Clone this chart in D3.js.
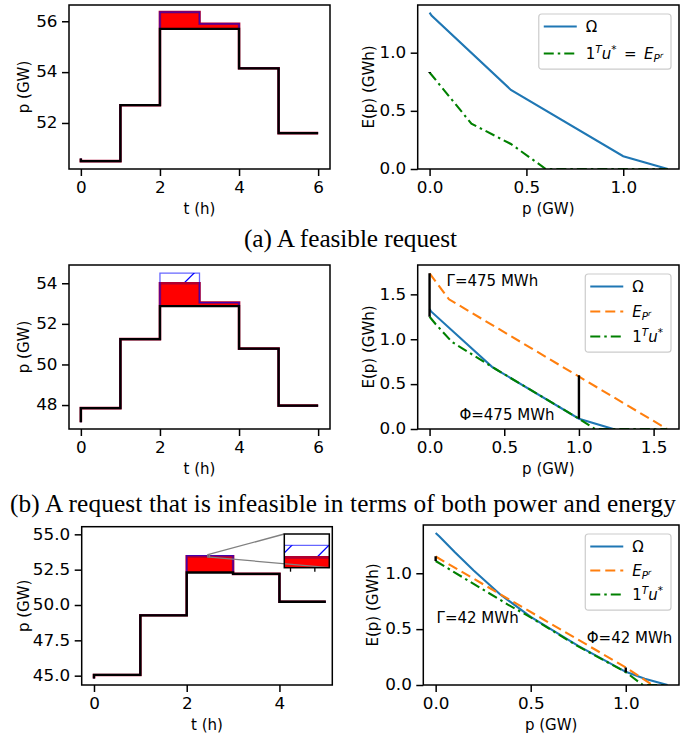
<!DOCTYPE html>
<html>
<head>
<meta charset="utf-8">
<script src="https://cdn.jsdelivr.net/npm/d3@7"></script>
<style>
body { margin: 0; background: #fff; }
svg text { font-family: "DejaVu Sans", sans-serif; font-size: 15px; fill: #000; }
svg text.cap { font-family: "Liberation Serif", serif; font-size: 25.3px; }
</style>
</head>
<body>
<svg id="chart" width="699" height="734"></svg>
<script>
// ---------- data ----------
// hours (step 'pre' : value i is the level on (t[i-1], t[i]])
const hoursAB = [0, 1, 2, 3, 4, 5, 6];
const hoursC = [0, 1, 2, 3, 4, 5];

// (a) feasible request
const baseA = [50.6, 50.5, 52.7, 55.7, 55.7, 54.15, 51.6];
const reqA  = [50.6, 50.5, 52.7, 56.36, 55.9, 54.15, 51.6];
const delA  = [50.6, 50.5, 52.7, 56.36, 55.9, 54.15, 51.6];
const omegaA = [[0, 1.345], [0.01, 1.32], [0.42, 0.68], [1.0, 0.11], [1.23, 0]];
const uA     = [[0, 0.83], [0.216, 0.39], [0.42, 0.215], [0.6, 0], [1.23, 0]];
const marksA = [[0, 0.825, 0.835]];

// (b) infeasible in power and energy
const baseB = [47.15, 47.85, 51.25, 52.87, 52.87, 50.78, 47.97];
const reqB  = [47.15, 47.85, 51.25, 54.5, 53.05, 50.78, 47.97];
const delB  = [47.15, 47.85, 51.25, 54.0, 53.05, 50.78, 47.97];
const omegaB = [[0, 1.335], [0.01, 1.31], [0.42, 0.69], [1.0, 0.115], [1.23, 0]];
const reqEB  = [[0, 1.735], [0.13, 1.445], [1.59, 0]];
const uB     = [[0, 1.25], [0.04, 1.17], [0.15, 0.97], [0.45, 0.66], [1.0, 0.115], [1.107, 0], [1.59, 0]];
const marksB = [[0, 1.25, 1.735], [1.0, 0.115, 0.6]];
const notesB = [['Γ=475 MWh', 0.114, 1.59], ['Φ=475 MWh', 0.2, 0.105]];

// (c)
const baseC = [44.8, 45.05, 49.27, 52.3, 52.2, 50.23];
const reqC  = [44.8, 45.05, 49.27, 53.5, 52.2, 50.23];
const delC  = [44.8, 45.05, 49.27, 53.44, 52.2, 50.23];
const omegaC = [[0, 1.36], [0.02, 1.33], [0.1, 1.19], [0.2, 1.025], [0.34, 0.81], [0.5, 0.61], [0.75, 0.35], [1.0, 0.118], [1.1, 0.055], [1.22, 0]];
const reqEC  = [[0, 1.15], [1.0, 0.157], [1.14, 0]];
const uC     = [[0, 1.11], [0.38, 0.72], [0.5, 0.605], [0.75, 0.345], [1.0, 0.115], [1.09, 0], [1.22, 0]];
const marksC = [[0, 1.11, 1.152], [1.0, 0.115, 0.157]];
const notesC = [['Γ=42 MWh', 0.005, 0.555], ['Φ=42 MWh', 0.795, 0.372]];

// ticks
const tickHoursAB = [0, 2, 4, 6], tickHoursABLbl = ['0', '2', '4', '6'];
const tickHoursC = [0, 2, 4], tickHoursCLbl = ['0', '2', '4'];
const tickPowA = [52, 54, 56], tickPowALbl = ['52', '54', '56'];
const tickPowB = [48, 50, 52, 54], tickPowBLbl = ['48', '50', '52', '54'];
const tickPowC = [45, 47.5, 50, 52.5, 55], tickPowCLbl = ['45.0', '47.5', '50.0', '52.5', '55.0'];
const tickGw = [0, 0.5, 1.0], tickGwLbl = ['0.0', '0.5', '1.0'];
const tickGwB = [0, 0.5, 1.0, 1.5], tickGwBLbl = ['0.0', '0.5', '1.0', '1.5'];
const tickInset = [2.46, 2.48];

// legend labels (mathtext pieces)
const lblOmega = [{t: 'Ω'}];
const lblU = [{t: '1'}, {t: 'T', it: 1, s: 0.7, dy: -6}, {t: 'u', it: 1, dy: 0}, {t: '*', s: 0.7, dy: -6}];
const lblE = [{t: 'E', it: 1}, {t: 'P', it: 1, s: 0.7, dy: 3.5}, {t: 'r', it: 1, s: 0.5, dy: -1}];
const lblUE = lblU.concat([{t: '\u2002=\u2002', dy: 0}], lblE);

const BLUE = '#1f77b4', ORANGE = '#ff7f0e', GREEN = '#008000';
const TICK_SX = 1.12;	// tick labels are drawn a bit wider than the other texts

// ---------- drawing ----------
const svg = d3.select('#chart');
const defs = svg.append('defs');

// '/' hatch, aligned on the page grid
defs.append('pattern').attr('id', 'hatch')
	.attr('patternUnits', 'userSpaceOnUse')
	.attr('width', 37).attr('height', 37)
	.append('path')
	.attr('d', 'M-5,28.2L28.2,-5M18.2,42L42,18.2')
	.attr('stroke', 'blue').attr('stroke-width', 1.3);

let clipN = 0;

// axes box + scales
function panel(box, xDom, yDom) {
	const x = d3.scaleLinear().domain(xDom).range([box.x0, box.x1]);
	const y = d3.scaleLinear().domain(yDom).range([box.y1, box.y0]);
	const id = 'clip' + (clipN++);
	defs.append('clipPath').attr('id', id).append('rect')
		.attr('x', box.x0).attr('y', box.y0)
		.attr('width', box.x1 - box.x0).attr('height', box.y1 - box.y0);
	const g = svg.append('g').attr('clip-path', 'url(#' + id + ')');
	return {box: box, x: x, y: y, g: g};
}

function axes(p, c) {
	const b = p.box;
	const gx = svg.append('g').attr('transform', 'translate(0,' + b.y1 + ')')
		.call(d3.axisBottom(p.x).tickValues(c.xt).tickFormat((d, i) => c.xl[i]).tickSize(7).tickPadding(6));
	const gy = svg.append('g').attr('transform', 'translate(' + b.x0 + ',0)')
		.call(d3.axisLeft(p.y).tickValues(c.yt).tickFormat((d, i) => c.yl[i]).tickSize(7).tickPadding(4.5));
	[gx, gy].forEach(g => {
		g.attr('font-family', null).attr('font-size', null);
		g.select('.domain').remove();
		g.selectAll('line').attr('stroke', '#000').attr('stroke-width', 1.5);
		g.selectAll('text').each(function() {
			const t = d3.select(this);
			const x0 = +t.attr('x') || 0;
			t.attr('x', x0 / TICK_SX).attr('transform', 'scale(' + TICK_SX + ',1)');
		});
	});
	svg.append('text')
		.attr('x', (b.x0 + b.x1) / 2).attr('y', b.y1 + 44.5)
		.attr('text-anchor', 'middle').text(c.xTitle);
	svg.append('text')
		.attr('transform', 'translate(' + c.yTitleX + ',' + (b.y0 + b.y1) / 2 + ') rotate(-90)')
		.attr('text-anchor', 'middle').text(c.yTitle);
}

function frame(b) {
	svg.append('rect')
		.attr('x', b.x0).attr('y', b.y0)
		.attr('width', b.x1 - b.x0).attr('height', b.y1 - b.y0)
		.attr('fill', 'none').attr('stroke', '#000').attr('stroke-width', 1.5);
}

// power profile: red = delivered, hatch = refused part, blue = request, black = baseline
function steps(p, hours, base, req, del) {
	const line = d3.line().x(d => p.x(d[0])).y(d => p.y(d[1])).curve(d3.curveStepBefore);
	const area = d3.area().x(d => p.x(d[0])).y0(d => p.y(d[1])).y1(d => p.y(d[2])).curve(d3.curveStepBefore);
	p.g.append('path').attr('d', area(hours.map((t, i) => [t, base[i], del[i]]))).attr('fill', 'red');
	p.g.append('path').attr('d', area(hours.map((t, i) => [t, del[i], req[i]]))).attr('fill', 'url(#hatch)');
	p.g.append('path').attr('d', line(hours.map((t, i) => [t, del[i]])))
		.attr('fill', 'none').attr('stroke', '#b00030').attr('stroke-width', 2.6);
	p.g.append('path').attr('d', line(hours.map((t, i) => [t, req[i]])))
		.attr('fill', 'none').attr('stroke', 'blue').attr('stroke-opacity', 0.6).attr('stroke-width', 1.3);
	p.g.append('path').attr('d', line(hours.map((t, i) => [t, base[i]])))
		.attr('fill', 'none').attr('stroke', '#000').attr('stroke-width', 2.3);
}

function curve(p, data, color, dash) {
	const line = d3.line().x(d => p.x(d[0])).y(d => p.y(d[1]));
	p.g.append('path').attr('d', line(data))
		.attr('fill', 'none').attr('stroke', color).attr('stroke-width', 2.1)
		.attr('stroke-dasharray', dash || null);
}

function marks(p, data) {
	p.g.selectAll(null).data(data).enter().append('line')
		.attr('x1', d => p.x(d[0])).attr('x2', d => p.x(d[0]))
		.attr('y1', d => p.y(d[1])).attr('y2', d => p.y(d[2]))
		.attr('stroke', '#000').attr('stroke-width', 2.4);
}

function notes(p, data) {
	svg.selectAll(null).data(data).enter().append('text')
		.attr('x', d => p.x(d[1])).attr('y', d => p.y(d[2]))
		.text(d => d[0]);
}

// text with italic / sub / sup pieces
function rich(t, segs) {
	let prev = 0;
	segs.forEach(s => {
		const dy = s.dy === undefined ? prev : s.dy;
		t.append('tspan')
			.attr('dy', dy - prev)
			.style('font-size', (15 * (s.s || 1)) + 'px')
			.style('font-style', s.it ? 'italic' : 'normal')
			.text(s.t);
		prev = dy;
	});
}

function legend(p, items, gap) {
	const g = svg.append('g');
	const bg = g.append('rect');
	const top = p.box.y0 + 9;
	let w = 0;
	items.forEach((it, i) => {
		const cy = top + 12.5 + i * gap;
		g.append('line').attr('x1', 5).attr('x2', 38).attr('y1', cy).attr('y2', cy)
			.attr('stroke', it.color).attr('stroke-width', 2.1)
			.attr('stroke-dasharray', it.dash || null);
		const t = g.append('text').attr('x', 47).attr('y', cy + 5.4);
		rich(t, it.label);
		w = Math.max(w, t.node().getComputedTextLength());
	});
	const width = 47 + w + 8;
	bg.attr('x', 0).attr('y', top).attr('rx', 3)
		.attr('width', width).attr('height', 12.5 + (items.length - 1) * gap + 15.7)
		.attr('fill', '#fff').attr('fill-opacity', 0.8)
		.attr('stroke', '#ccc').attr('stroke-width', 1.2);
	g.attr('transform', 'translate(' + (p.box.x1 - 8 - width) + ',0)');
}

const DASHDOT = '10,4,2.5,4', DASH = '10,5';

// ----- (a) -----
const aL = panel({x0: 69, x1: 330, y0: 5, y1: 169}, [-0.3, 6.3], [50.19, 56.64]);
steps(aL, hoursAB, baseA, reqA, delA);
axes(aL, {xt: tickHoursAB, xl: tickHoursABLbl, yt: tickPowA, yl: tickPowALbl, xTitle: 't (h)', yTitle: 'p (GW)', yTitleX: 29});
frame(aL.box);

const aR = panel({x0: 417.7, x1: 679, y0: 5, y1: 169}, [-0.0614, 1.288], [0, 1.41]);
curve(aR, omegaA, BLUE);
curve(aR, uA, GREEN, DASHDOT);
marks(aR, marksA);
axes(aR, {xt: tickGw, xl: tickGwLbl, yt: tickGw, yl: tickGwLbl, xTitle: 'p (GW)', yTitle: 'E(p) (GWh)', yTitleX: 374});
frame(aR.box);
legend(aR, [{label: lblOmega, color: BLUE}, {label: lblUE, color: GREEN, dash: DASHDOT}], 27);

// ----- (b) -----
const bL = panel({x0: 69, x1: 330, y0: 265, y1: 429}, [-0.3, 6.3], [46.82, 54.9]);
steps(bL, hoursAB, baseB, reqB, delB);
axes(bL, {xt: tickHoursAB, xl: tickHoursABLbl, yt: tickPowB, yl: tickPowBLbl, xTitle: 't (h)', yTitle: 'p (GW)', yTitleX: 29});
frame(bL.box);

const bR = panel({x0: 417.7, x1: 679, y0: 265, y1: 429}, [-0.0795, 1.67], [0, 1.827]);
curve(bR, omegaB, BLUE);
curve(bR, reqEB, ORANGE, DASH);
curve(bR, uB, GREEN, DASHDOT);
marks(bR, marksB);
notes(bR, notesB);
axes(bR, {xt: tickGwB, xl: tickGwBLbl, yt: tickGwB, yl: tickGwBLbl, xTitle: 'p (GW)', yTitle: 'E(p) (GWh)', yTitleX: 374});
frame(bR.box);
legend(bR, [{label: lblOmega, color: BLUE}, {label: lblE, color: ORANGE, dash: DASH}, {label: lblU, color: GREEN, dash: DASHDOT}], 25);

// ----- (c) -----
const cL = panel({x0: 81.7, x1: 332.3, y0: 526.7, y1: 685}, [-0.265, 5.14], [44.34, 55.54]);
steps(cL, hoursC, baseC, reqC, delC);
axes(cL, {xt: tickHoursC, xl: tickHoursCLbl, yt: tickPowC, yl: tickPowCLbl, xTitle: 't (h)', yTitle: 'p (GW)', yTitleX: 28.5});
frame(cL.box);

// zoomed inset + connectors
const inDomX = [2.4553, 2.4923], inDomY = [53.388, 53.557];
const cI = panel({x0: 284.3, x1: 329.3, y0: 534, y1: 567.7}, inDomX, inDomY);
cI.g.append('rect').attr('x', cI.box.x0).attr('y', cI.box.y0)
	.attr('width', cI.box.x1 - cI.box.x0).attr('height', cI.box.y1 - cI.box.y0).attr('fill', '#fff');
steps(cI, hoursC, baseC, reqC, delC);
svg.append('g').attr('transform', 'translate(0,' + cI.box.y1 + ')')
	.call(d3.axisBottom(cI.x).tickValues(tickInset).tickFormat('').tickSize(4))
	.call(g => g.select('.domain').remove())
	.selectAll('line').attr('stroke', '#000').attr('stroke-width', 1.3);
const rx0 = cL.x(inDomX[0]), rx1 = cL.x(inDomX[1]), ry0 = cL.y(inDomY[1]), ry1 = cL.y(inDomY[0]);
svg.append('rect').attr('x', rx0).attr('y', ry0).attr('width', rx1 - rx0).attr('height', ry1 - ry0)
	.attr('fill', 'none').attr('stroke', '#808080').attr('stroke-width', 1.3);
svg.append('line').attr('x1', rx0).attr('y1', ry0).attr('x2', cI.box.x0).attr('y2', cI.box.y0)
	.attr('stroke', '#808080').attr('stroke-width', 1.3);
svg.append('line').attr('x1', rx1).attr('y1', ry1).attr('x2', cI.box.x1).attr('y2', cI.box.y1)
	.attr('stroke', '#808080').attr('stroke-width', 1.3);
frame(cI.box);

const cR = panel({x0: 423.3, x1: 679, y0: 525, y1: 685}, [-0.065, 1.28], [0, 1.432]);
curve(cR, omegaC, BLUE);
curve(cR, reqEC, ORANGE, DASH);
curve(cR, uC, GREEN, DASHDOT);
marks(cR, marksC);
notes(cR, notesC);
axes(cR, {xt: tickGw, xl: tickGwLbl, yt: tickGw, yl: tickGwLbl, xTitle: 'p (GW)', yTitle: 'E(p) (GWh)', yTitleX: 378});
frame(cR.box);
legend(cR, [{label: lblOmega, color: BLUE}, {label: lblE, color: ORANGE, dash: DASH}, {label: lblU, color: GREEN, dash: DASHDOT}], 24);

// captions
svg.append('text').attr('class', 'cap').attr('x', 350.5).attr('y', 246.5)
	.attr('text-anchor', 'middle').attr('textLength', 213).attr('lengthAdjust', 'spacing')
	.text('(a) A feasible request');
svg.append('text').attr('class', 'cap').attr('x', 343).attr('y', 511.5)
	.attr('text-anchor', 'middle').attr('textLength', 666).attr('lengthAdjust', 'spacing')
	.text('(b) A request that is infeasible in terms of both power and energy');
</script>
</body>
</html>
